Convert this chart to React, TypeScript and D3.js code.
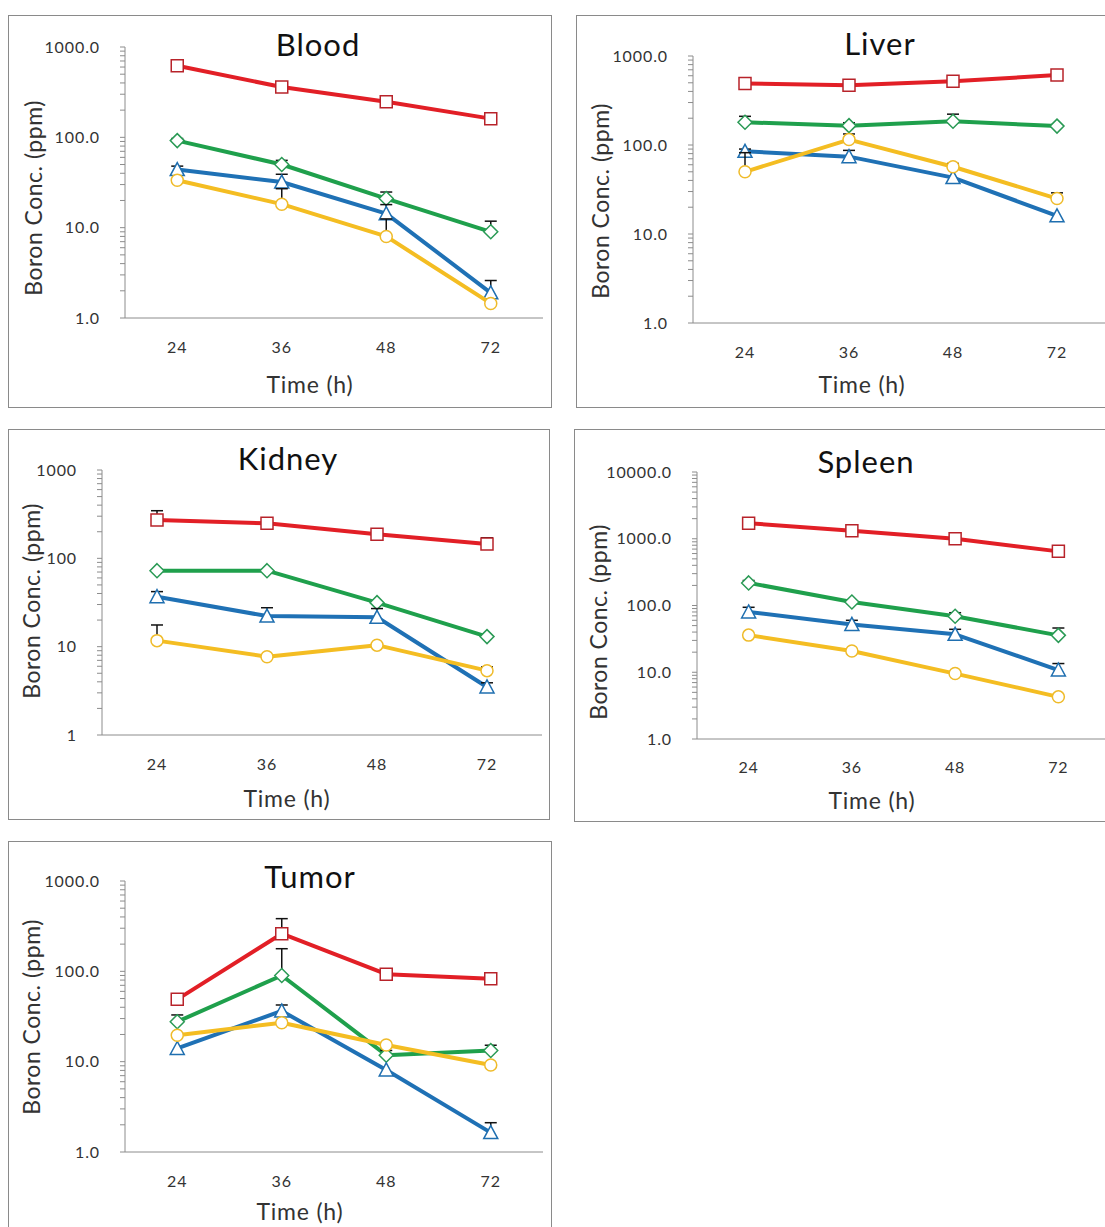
import React from "react";
import * as d3 from "d3";

// ---------- data ----------
const categories = ["24", "36", "48", "72"];
const seriesKeys = ["red", "green", "blue", "yellow"];

// Blood
const bloodRed = [620, 361, 248, 161];
const bloodGreen = [92, 50, 21, 9.0];
const bloodBlue = [44, 32, 14.3, 1.9];
const bloodYellow = [33.5, 18.2, 8.0, 1.45];
const bloodRedErr = [null, null, null, null];
const bloodGreenErr = [97, 55.6, 24.8, 11.8];
const bloodBlueErr = [48, 39, 18, 2.6];
const bloodYellowErr = [null, 27, 12.5, null];

// Liver
const liverRed = [490, 470, 520, 610];
const liverGreen = [180, 165, 185, 163];
const liverBlue = [85, 74, 43, 16];
const liverYellow = [50, 115, 57, 25];
const liverRedErr = [null, null, null, null];
const liverGreenErr = [210, 178, 222, null];
const liverBlueErr = [90, 87, null, null];
const liverYellowErr = [82, 133, 62, 29];

// Kidney
const kidneyRed = [272, 249, 187, 145];
const kidneyGreen = [72.5, 72.5, 31.5, 13];
const kidneyBlue = [36.8, 22.2, 21.5, 3.5];
const kidneyYellow = [11.7, 7.7, 10.4, 5.35];
const kidneyRedErr = [346, null, null, 171];
const kidneyGreenErr = [null, null, null, null];
const kidneyBlueErr = [42, 27.6, 27, 3.9];
const kidneyYellowErr = [17.6, null, 10.9, 5.9];

// Spleen
const spleenRed = [1710, 1316, 1000, 647];
const spleenGreen = [218, 113, 69, 35.7];
const spleenBlue = [80, 52, 37, 10.8];
const spleenYellow = [36, 20.8, 9.55, 4.28];
const spleenRedErr = [null, null, null, null];
const spleenGreenErr = [237, null, 78, 46];
const spleenBlueErr = [94, 60, 44, 13.5];
const spleenYellowErr = [null, null, null, null];

// Tumor
const tumorRed = [49, 261, 93, 83];
const tumorGreen = [27.7, 90, 11.8, 13.3];
const tumorBlue = [14, 36.4, 8.1, 1.64];
const tumorYellow = [19.6, 27, 15.3, 9.2];
const tumorRedErr = [null, 383, null, null];
const tumorGreenErr = [32.9, 178, 13.3, 15.2];
const tumorBlueErr = [null, 42.4, null, 2.11];
const tumorYellowErr = [null, null, null, null];

const panelTitles = ["Blood", "Liver", "Kidney", "Spleen", "Tumor"];
const yMax = [1000, 1000, 1000, 10000, 1000];
const yDecimals = [1, 1, 0, 1, 1];
const xLabel = "Time (h)";
const yLabel = "Boron Conc. (ppm)";

// ---------- styles ----------
const COLORS: Record<string, string> = {
  red: "#E21F26",
  green: "#1FA04C",
  blue: "#1F71B5",
  yellow: "#F4BD22",
};
const MARKER_STROKE: Record<string, string> = {
  red: "#B8232A",
  green: "#2A9A55",
  blue: "#1F6FB0",
  yellow: "#EFBB2A",
};
const MARKER: Record<string, string> = {
  red: "square",
  green: "diamond",
  blue: "triangle",
  yellow: "circle",
};
const FONT = "Lato, 'Open Sans', 'DejaVu Sans', sans-serif";

const panelData = [
  { vals: [bloodRed, bloodGreen, bloodBlue, bloodYellow], errs: [bloodRedErr, bloodGreenErr, bloodBlueErr, bloodYellowErr] },
  { vals: [liverRed, liverGreen, liverBlue, liverYellow], errs: [liverRedErr, liverGreenErr, liverBlueErr, liverYellowErr] },
  { vals: [kidneyRed, kidneyGreen, kidneyBlue, kidneyYellow], errs: [kidneyRedErr, kidneyGreenErr, kidneyBlueErr, kidneyYellowErr] },
  { vals: [spleenRed, spleenGreen, spleenBlue, spleenYellow], errs: [spleenRedErr, spleenGreenErr, spleenBlueErr, spleenYellowErr] },
  { vals: [tumorRed, tumorGreen, tumorBlue, tumorYellow], errs: [tumorRedErr, tumorGreenErr, tumorBlueErr, tumorYellowErr] },
];

// layout (pixels)
const layouts = [
  { box: [8.5, 15.5, 543, 392], x0: 125, x1: 543, yTop: 47, yBot: 318, titleX: 318, titleY: 56, tickY: 353, xlX: 310, xlY: 393, ylX: 42, ylY: 198 },
  { box: [576.5, 15.5, 540, 392], x0: 693, x1: 1109, yTop: 56, yBot: 323, titleX: 880, titleY: 55, tickY: 358, xlX: 862, xlY: 393, ylX: 609, ylY: 201 },
  { box: [8.5, 429.5, 541, 390], x0: 102, x1: 542, yTop: 470, yBot: 735, titleX: 288, titleY: 470, tickY: 770, xlX: 287, xlY: 807, ylX: 40, ylY: 601 },
  { box: [574.5, 429.5, 540, 392], x0: 697, x1: 1110, yTop: 472, yBot: 739, titleX: 866, titleY: 473, tickY: 773, xlX: 872, xlY: 809, ylX: 607, ylY: 622 },
  { box: [8.5, 841.5, 543, 400], x0: 125, x1: 543, yTop: 881, yBot: 1152, titleX: 310, titleY: 888, tickY: 1187, xlX: 300, xlY: 1220, ylX: 40, ylY: 1017 },
];

function markerPath(kind: string, s: number) {
  const h = s / 2;
  if (kind === "square") return `M${-h},${-h}H${h}V${h}H${-h}Z`;
  if (kind === "diamond") return `M0,${-h - 1}L${h + 1},0L0,${h + 1}L${-h - 1},0Z`;
  if (kind === "triangle") return `M0,${-h - 1}L${h + 1},${h}L${-h - 1},${h}Z`;
  return "";
}

function Panel({ idx }: { idx: number }) {
  const L = layouts[idx];
  const D = panelData[idx];
  const x = d3.scalePoint<string>().domain(categories).range([L.x0, L.x1]).padding(0.5);
  const y = d3.scaleLog().domain([1, yMax[idx]]).range([L.yBot, L.yTop]);
  const majors: number[] = [];
  const minors: number[] = [];
  for (let d = 1; d <= yMax[idx]; d *= 10) {
    majors.push(d);
    if (d < yMax[idx]) for (let k = 2; k <= 9; k++) minors.push(d * k);
  }
  const fmt = d3.format(yDecimals[idx] ? ".1f" : "d");
  const line = d3
    .line<number>()
    .x((_, i) => x(categories[i]) as number)
    .y((v) => y(v));
  const [bx, by, bw, bh] = L.box;
  return (
    <g>
      <rect x={bx} y={by} width={bw} height={bh} fill="#fff" stroke="#8a8a8a" strokeWidth={1} />
      {/* axes */}
      <line x1={L.x0} x2={L.x0} y1={L.yTop} y2={L.yBot} stroke="#8c8c8c" strokeWidth={1} />
      <line x1={L.x0} x2={L.x1} y1={L.yBot} y2={L.yBot} stroke="#8c8c8c" strokeWidth={1} />
      {majors.concat(minors).map((v, i) => (
        <line key={"t" + i} x1={L.x0 - 5} x2={L.x0} y1={y(v)} y2={y(v)} stroke="#8c8c8c" strokeWidth={1} />
      ))}
      {majors.map((v, i) => (
        <text key={"yl" + i} x={L.x0 - 25} y={y(v)} dy="0.35em" textAnchor="end" fontSize={16} letterSpacing={0.9} fill="#333" fontFamily={FONT}>
          {fmt(v)}
        </text>
      ))}
      {categories.map((c) => (
        <text key={"xl" + c} x={x(c)} y={L.tickY} textAnchor="middle" fontSize={16} letterSpacing={0.9} fill="#333" fontFamily={FONT}>
          {c}
        </text>
      ))}
      <text x={L.titleX} y={L.titleY} textAnchor="middle" fontSize={31} letterSpacing={1} fill="#111" fontFamily={FONT}>
        {panelTitles[idx]}
      </text>
      <text x={L.xlX} y={L.xlY} textAnchor="middle" fontSize={23} letterSpacing={0.8} fill="#333" fontFamily={FONT}>
        {xLabel}
      </text>
      <text
        transform={`translate(${L.ylX},${L.ylY}) rotate(-90)`}
        textAnchor="middle"
        fontSize={23}
        letterSpacing={0.5}
        fill="#333"
        fontFamily={FONT}
      >
        {yLabel}
      </text>
      {/* series */}
      {seriesKeys.map((k, si) => {
        const vals = D.vals[si];
        const errs = D.errs[si];
        return (
          <g key={k}>
            <path d={line(vals) || ""} fill="none" stroke={COLORS[k]} strokeWidth={4} strokeLinejoin="round" />
            {errs.map((e, i) =>
              e == null ? null : (
                <g key={"e" + i} stroke="#111" strokeWidth={1.5}>
                  <line x1={x(categories[i])} x2={x(categories[i])} y1={y(vals[i])} y2={y(e as number)} />
                  <line
                    x1={(x(categories[i]) as number) - 6}
                    x2={(x(categories[i]) as number) + 6}
                    y1={y(e as number)}
                    y2={y(e as number)}
                  />
                </g>
              )
            )}
            {vals.map((v, i) => {
              const cx = x(categories[i]) as number;
              const cy = y(v);
              if (MARKER[k] === "circle")
                return <circle key={"m" + i} cx={cx} cy={cy} r={6} fill="#fff" stroke={MARKER_STROKE[k]} strokeWidth={1.5} />;
              return (
                <path
                  key={"m" + i}
                  transform={`translate(${cx},${cy})`}
                  d={markerPath(MARKER[k], 12)}
                  fill="#fff"
                  stroke={MARKER_STROKE[k]}
                  strokeWidth={1.5}
                />
              );
            })}
          </g>
        );
      })}
    </g>
  );
}

export default function App() {
  return (
    <div style={{ position: "absolute", left: 0, top: 0 }}>
      <svg width={1105} height={1227} style={{ display: "block", background: "#fff" }}>
        {panelTitles.map((_, i) => (
          <Panel key={i} idx={i} />
        ))}
      </svg>
    </div>
  );
}
